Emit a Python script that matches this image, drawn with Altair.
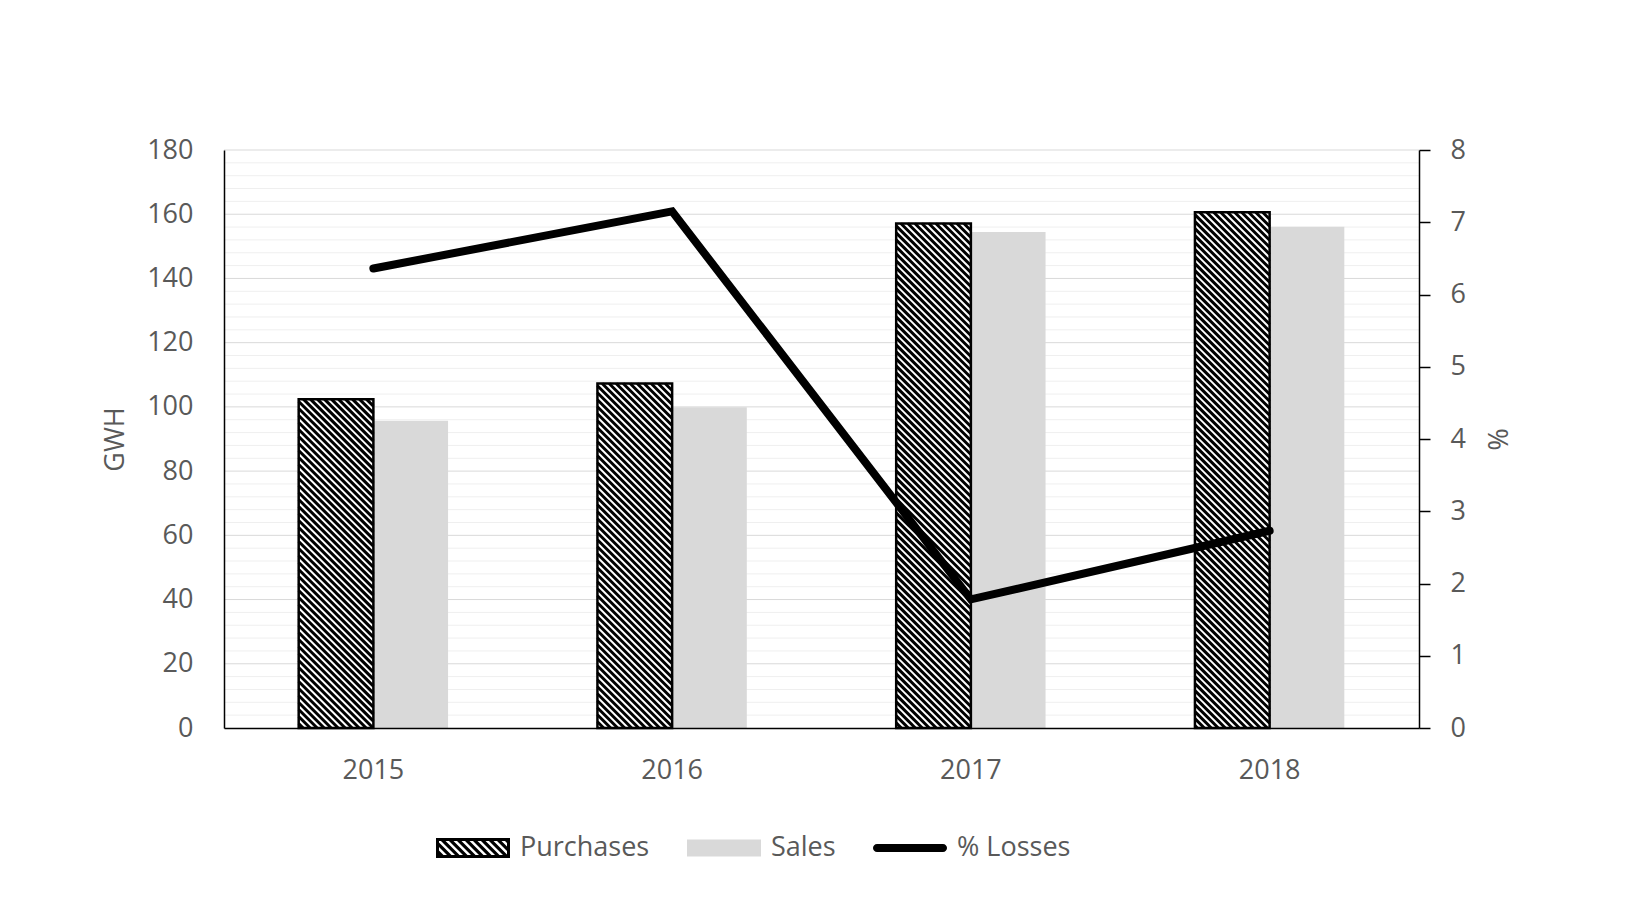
import altair as alt
import pandas as pd

# ---------------- data ----------------
years = ["2015", "2016", "2017", "2018"]
purchases = [102.4, 107.3, 157.1, 160.6]
sales = [95.7, 99.9, 154.5, 156.1]
losses = [6.36, 7.15, 1.78, 2.73]
series_names = ["Purchases", "Sales", "% Losses"]
gwh_ticks = list(range(0, 181, 20))
gwh_minor = [v for v in range(0, 181, 4) if v % 20]
pct_ticks = list(range(0, 9))

# ---------------- style / layout ----------------
W, H = 1195, 578
GWH_MAX, PCT_MAX = 180, 8
FONT = "Open Sans"
FS = 27
TXT = "#595959"
GRID = "#d9d9d9"
MINOR = "#efefef"
SALES_C = "#d9d9d9"
SYM_W = 74.0
SYM = SYM_W ** 2
U = SYM_W / 2.0

bars_df = pd.DataFrame({
    "year": years * 2,
    "series": ["Purchases"] * len(years) + ["Sales"] * len(years),
    "value": purchases + sales,
})
line_df = pd.DataFrame({"year": years, "losses": losses})
minor_df = pd.DataFrame({"v": gwh_minor})
major_df = pd.DataFrame({"v": [v for v in gwh_ticks if v > 0]})
legend_df = pd.DataFrame({"series": series_names})

# hatch lines (pattern fill of the Purchases bars), derived from the bar values
n = len(years)
step = W / n
PERIOD = 7.0
hrows = []
for i, v in enumerate(purchases):
    xl, xr = (i + 0.25) * step, (i + 0.5) * step
    yt, yb = H * (1 - v / GWH_MAX), float(H)
    c = yt - xr
    while c < yb - xl:
        xa, xb = max(xl, yt - c), min(xr, yb - c)
        if xb > xa:
            hrows.append({
                "x": xa / W * n, "x2": xb / W * n,
                "y": (H - (xa + c)) / H * GWH_MAX,
                "y2": (H - (xb + c)) / H * GWH_MAX,
            })
        c += PERIOD
hatch_df = pd.DataFrame(hrows)


# legend symbol paths
def clip(poly, x0, x1, y0, y1):
    def cut(pts, inside, inter):
        out = []
        for k in range(len(pts)):
            a, b = pts[k - 1], pts[k]
            ia, ib = inside(a), inside(b)
            if ib:
                if not ia:
                    out.append(inter(a, b))
                out.append(b)
            elif ia:
                out.append(inter(a, b))
        return out

    def ix(xc):
        return lambda a, b: (xc, a[1] + (b[1] - a[1]) * (xc - a[0]) / (b[0] - a[0]))

    def iy(yc):
        return lambda a, b: (a[0] + (b[0] - a[0]) * (yc - a[1]) / (b[1] - a[1]), yc)

    p = cut(poly, lambda q: q[0] >= x0, ix(x0))
    if p:
        p = cut(p, lambda q: q[0] <= x1, ix(x1))
    if p:
        p = cut(p, lambda q: q[1] >= y0, iy(y0))
    if p:
        p = cut(p, lambda q: q[1] <= y1, iy(y1))
    return p


def area(p):
    return sum(p[k - 1][0] * p[k][1] - p[k][0] * p[k - 1][1] for k in range(len(p)))


def to_path(p):
    return "M" + "L".join(f"{x:.3f},{y:.3f}" for x, y in p) + "Z"


hh = 10 / U
outer = [(-1, -hh), (1, -hh), (1, hh), (-1, hh)]
b = 3 / U
xi0, xi1, yi0, yi1 = -1 + b, 1 - b, -hh + b, hh - b
sh = yi1 - yi0
per, sw = 8 / U, 3.5 / U
holes = []
s = xi0 - sh - sw
while s < xi1:
    par = [(s, yi0), (s + sw, yi0), (s + sw + sh, yi1), (s + sh, yi1)]
    cp = clip(par, xi0, xi1, yi0, yi1)
    if len(cp) >= 3 and abs(area(cp)) > 1e-6:
        if area(cp) > 0:
            cp = cp[::-1]
        holes.append(cp)
    s += per
purch_path = to_path(outer) + "".join(to_path(h) for h in holes)
sh2 = 8.5 / U
sales_path = to_path([(-1, -sh2), (1, -sh2), (1, sh2), (-1, sh2)])
r = 4 / U
loss_path = (f"M{-1 + r:.3f},{-r:.3f}L{1 - r:.3f},{-r:.3f}"
             f"A{r:.3f},{r:.3f} 0 0 1 {1 - r:.3f},{r:.3f}"
             f"L{-1 + r:.3f},{r:.3f}"
             f"A{r:.3f},{r:.3f} 0 0 1 {-1 + r:.3f},{-r:.3f}Z")

# ---------------- chart ----------------
xscale = alt.Scale(domain=years, paddingInner=0.5, paddingOuter=0.25)
offscale = alt.Scale(domain=["Purchases", "Sales"], paddingInner=0, paddingOuter=0)
gscale = alt.Scale(domain=[0, GWH_MAX], nice=False)

minor = alt.Chart(minor_df).mark_rule(color=MINOR, strokeWidth=1).encode(
    y=alt.Y("v:Q", scale=gscale, axis=None)
)
major = alt.Chart(major_df).mark_rule(color=GRID, strokeWidth=1).encode(
    y=alt.Y("v:Q", scale=gscale, axis=None)
)

bars = alt.Chart(bars_df).mark_bar().encode(
    x=alt.X("year:N", scale=xscale, sort=years,
            axis=alt.Axis(title=None, labelAngle=0, ticks=False, tickSize=0,
                          domain=True, domainColor="black", domainWidth=1.5,
                          labelPadding=29, grid=False, zindex=1)),
    xOffset=alt.XOffset("series:N", scale=offscale, sort=["Purchases", "Sales"]),
    y=alt.Y("value:Q", scale=gscale,
            axis=alt.Axis(values=gwh_ticks, grid=False,
                          domain=True, domainColor="black", domainWidth=1.5,
                          ticks=False, tickSize=0, labelPadding=31,
                          title="GWH", titlePadding=17, orient="left", zindex=1)),
    fill=alt.condition(alt.datum.series == "Purchases", alt.value("white"), alt.value(SALES_C)),
)

hatch = alt.Chart(hatch_df).mark_rule(color="black", strokeWidth=3.0, strokeCap="butt").encode(
    x=alt.X("x:Q", scale=alt.Scale(domain=[0, n], nice=False, zero=False), axis=None),
    x2="x2:Q",
    y=alt.Y("y:Q", scale=gscale, axis=None),
    y2="y2:Q",
)

outline = alt.Chart(bars_df).transform_filter(
    alt.datum.series == "Purchases"
).mark_bar(fillOpacity=0, stroke="black", strokeWidth=2.5).encode(
    x=alt.X("year:N", scale=xscale, sort=years, axis=None),
    xOffset=alt.XOffset("series:N", scale=offscale, sort=["Purchases", "Sales"]),
    y=alt.Y("value:Q", scale=gscale, axis=None),
)

line = alt.Chart(line_df).mark_line(color="black", strokeWidth=8, strokeCap="round").encode(
    x=alt.X("year:N", scale=xscale, sort=years, axis=None),
    y=alt.Y("losses:Q", scale=alt.Scale(domain=[0, PCT_MAX], nice=False),
            axis=alt.Axis(orient="right", values=pct_ticks, grid=False, ticks=True,
                          tickSize=11, tickColor="black", tickWidth=1.5,
                          domain=True, domainColor="black", domainWidth=1.5,
                          labelPadding=20, title="%", titlePadding=16, zindex=1)),
)

leg = alt.Legend(title=None, orient="none", legendX=212, legendY=661,
                 direction="horizontal", columns=3)
legend_layer = alt.Chart(legend_df).transform_filter("false").mark_point(
    filled=True, opacity=1, size=SYM
).encode(
    x=alt.value(0), y=alt.value(0),
    color=alt.Color("series:N", sort=series_names,
                    scale=alt.Scale(domain=series_names, range=["black", SALES_C, "black"]),
                    legend=leg),
    shape=alt.Shape("series:N", sort=series_names,
                    scale=alt.Scale(domain=series_names, range=[purch_path, sales_path, loss_path]),
                    legend=leg),
)

chart = alt.layer(minor, major, bars, hatch, outline, line, legend_layer).resolve_scale(
    x="independent", y="independent", xOffset="independent"
).properties(
    width=W, height=H,
    padding={"left": 216, "top": 142, "right": 199, "bottom": 185},
    autosize=alt.AutoSizeParams(type="none"),
).configure_view(strokeWidth=0).configure_axis(
    labelFont=FONT, labelFontSize=FS, labelColor=TXT,
    titleFont=FONT, titleFontSize=FS, titleColor=TXT, titleFontWeight="normal",
).configure_legend(
    labelFont=FONT, labelFontSize=FS, labelColor=TXT, labelOffset=10,
    columnPadding=37, symbolSize=SYM, symbolStrokeWidth=0, padding=0,
    symbolLimit=0,
)

chart.save("out.html", embed_options={"renderer": "svg", "actions": False})
